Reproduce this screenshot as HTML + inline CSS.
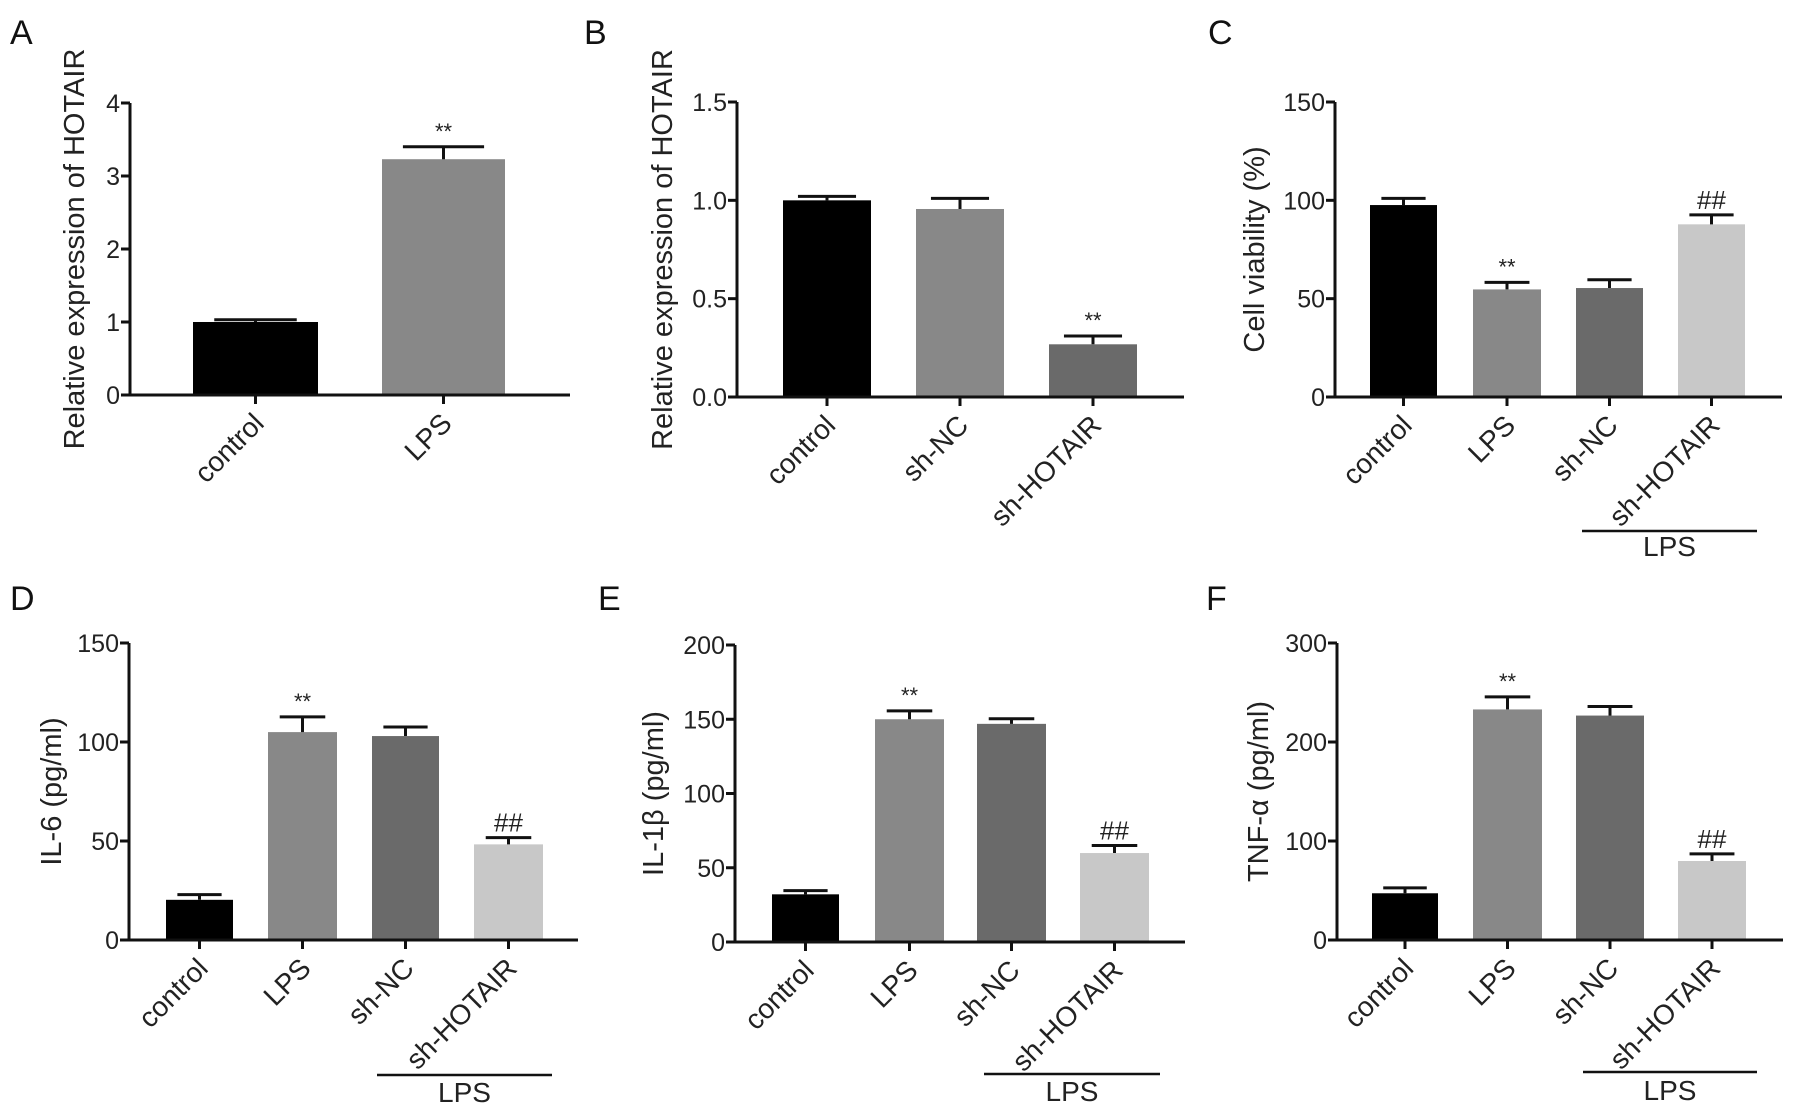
<!DOCTYPE html>
<html><head><meta charset="utf-8"><style>
html,body{margin:0;padding:0;background:#fff;}
svg{display:block;font-family:"Liberation Sans",Arial,sans-serif;}
</style></head><body>
<svg id="fig" width="1795" height="1114" viewBox="0 0 1795 1114" xmlns="http://www.w3.org/2000/svg"></svg>
<script>
// ---- data ----
const aCats = ["control","LPS"];
const aVals = [1.0, 3.23];
const aErrs = [1.03, 3.40];
const aMarks = ["", "**"];
const aTicks = [0,1,2,3,4];
const aTickLabels = ["0","1","2","3","4"];

const bCats = ["control","sh-NC","sh-HOTAIR"];
const bVals = [1.0, 0.956, 0.268];
const bErrs = [1.02, 1.01, 0.31];
const bMarks = ["", "", "**"];
const bTicks = [0,0.5,1.0,1.5];
const bTickLabels = ["0.0","0.5","1.0","1.5"];

const cCats = ["control","LPS","sh-NC","sh-HOTAIR"];
const cVals = [97.6, 54.7, 55.4, 87.8];
const cErrs = [101, 58.3, 59.6, 92.6];
const cMarks = ["", "**", "", "##"];
const cTicks = [0,50,100,150];
const cTickLabels = ["0","50","100","150"];

const dCats = ["control","LPS","sh-NC","sh-HOTAIR"];
const dVals = [20.3, 105, 103, 48.3];
const dErrs = [22.9, 112.7, 107.6, 51.7];
const dMarks = ["", "**", "", "##"];
const dTicks = [0,50,100,150];
const dTickLabels = ["0","50","100","150"];

const eCats = ["control","LPS","sh-NC","sh-HOTAIR"];
const eVals = [32.1, 150, 146.9, 59.9];
const eErrs = [34.6, 155.6, 150.3, 65];
const eMarks = ["", "**", "", "##"];
const eTicks = [0,50,100,150,200];
const eTickLabels = ["0","50","100","150","200"];

const fCats = ["control","LPS","sh-NC","sh-HOTAIR"];
const fVals = [47.2, 232.9, 226.7, 79.8];
const fErrs = [52.6, 245.6, 235.8, 87];
const fMarks = ["", "**", "", "##"];
const fTicks = [0,100,200,300];
const fTickLabels = ["0","100","200","300"];

// ---- layout ----
const NS = "http://www.w3.org/2000/svg";
const svg = document.getElementById('fig');
function mk(tag, attrs, parent){const e=document.createElementNS(NS,tag);for(const k in attrs)e.setAttribute(k,attrs[k]);(parent||svg).appendChild(e);return e;}

const panels = [
 {id:"a",letter:"A",lx:10,ly:44,ax:130,y0:395,y1:103,xEnd:570,max:4,cats:aCats,vals:aVals,errs:aErrs,marks:aMarks,ticks:aTicks,tl:aTickLabels,
  left:[193,382],bw:[125,123],colors:["#000","#888"],title:"Relative expression of HOTAIR",tx:75,bracket:null},
 {id:"b",letter:"B",lx:584,ly:44,ax:737,y0:397,y1:102,xEnd:1184,max:1.5,cats:bCats,vals:bVals,errs:bErrs,marks:bMarks,ticks:bTicks,tl:bTickLabels,
  left:[783,916,1049],bw:[88,88,88],colors:["#000","#888","#6a6a6a"],title:"Relative expression of HOTAIR",tx:663,bracket:null},
 {id:"c",letter:"C",lx:1208,ly:44,ax:1335,y0:397,y1:102,xEnd:1782,max:150,cats:cCats,vals:cVals,errs:cErrs,marks:cMarks,ticks:cTicks,tl:cTickLabels,
  left:[1370,1473,1576,1678],bw:[67,68,67,67],colors:["#000","#888","#6a6a6a","#c8c8c8"],title:"Cell viability (%)",tx:1255,bracket:[1582,1757,531,556]},
 {id:"d",letter:"D",lx:10,ly:610,ax:129,y0:940,y1:643,xEnd:578,max:150,cats:dCats,vals:dVals,errs:dErrs,marks:dMarks,ticks:dTicks,tl:dTickLabels,
  left:[166,268,372,474],bw:[67,69,67,69],colors:["#000","#888","#6a6a6a","#c8c8c8"],title:"IL-6 (pg/ml)",tx:52,bracket:[377,552,1075,1102]},
 {id:"e",letter:"E",lx:598,ly:610,ax:735,y0:942,y1:645,xEnd:1185,max:200,cats:eCats,vals:eVals,errs:eErrs,marks:eMarks,ticks:eTicks,tl:eTickLabels,
  left:[772,875,977,1080],bw:[67,69,69,69],colors:["#000","#888","#6a6a6a","#c8c8c8"],title:"IL-1β (pg/ml)",tx:654,bracket:[984,1160,1074,1101]},
 {id:"f",letter:"F",lx:1206,ly:610,ax:1337,y0:940,y1:643,xEnd:1783,max:300,cats:fCats,vals:fVals,errs:fErrs,marks:fMarks,ticks:fTicks,tl:fTickLabels,
  left:[1372,1473,1576,1678],bw:[66,69,68,68],colors:["#000","#888","#6a6a6a","#c8c8c8"],title:"TNF-α (pg/ml)",tx:1259,bracket:[1583,1757,1072,1100]}
];

panels.forEach(p=>{
  const g = mk('g',{});
  
  
  const yS = v => p.y0 - (v/p.max)*(p.y0-p.y1);

  const L = mk('text',{x:p.lx,y:p.ly,'font-size':34,fill:'#111'},g);
  L.textContent=p.letter;
  
  

  const T = mk('text',{x:0,y:0,'font-size':29,fill:'#222','text-anchor':'middle',
    transform:`translate(${p.tx},${(p.y0+p.y1)/2}) rotate(-90)`,'dominant-baseline':'central'},g);
  T.textContent=p.title;
  
  

  // bars
  p.vals.forEach((v,i)=>{
    const x=p.left[i], w=p.bw[i], cx=x+w/2;
    const r = mk('rect',{x:x,y:yS(v),width:w,height:p.y0-yS(v),fill:p.colors[i]},g);
    
    
    const e = p.errs[i];
    const el = mk('path',{d:`M${cx} ${yS(v)}V${yS(e)}M${cx-w*0.33} ${yS(e)}H${cx+w*0.33}`,stroke:'#111','stroke-width':3,fill:'none'},g);
    
    
    if(p.marks[i]){
      const isStar = p.marks[i]==="**";
      const m = mk('text',{x:cx,y:yS(e)-(isStar?8:6),'font-size':isStar?22:26,'text-anchor':'middle',fill:'#222'},g);
      m.textContent=p.marks[i];
      
      
    }
    // x tick
    const tk = mk('line',{x1:cx,x2:cx,y1:p.y0,y2:p.y0+9,stroke:'#111','stroke-width':3},g);
    
    
    const cl = mk('text',{x:0,y:0,'font-size':28,fill:'#222','text-anchor':'end',
      transform:`translate(${cx+10},${p.y0+30}) rotate(-45)`},g);
    cl.textContent=p.cats[i];
    
    
  });

  // axes
  const ax = mk('path',{d:`M${p.ax} ${p.y1}V${p.y0}H${p.xEnd}`,stroke:'#111','stroke-width':3,fill:'none'},g);
  
  
  p.ticks.forEach((t,i)=>{
    const y=yS(t);
    const tk = mk('line',{x1:p.ax-9,x2:p.ax,y1:y,y2:y,stroke:'#111','stroke-width':3},g);
    
    
    const tl = mk('text',{x:p.ax-10,y:y+9,'font-size':25,'text-anchor':'end',fill:'#222'},g);
    tl.textContent=p.tl[i];
    
    
  });

  if(p.bracket){
    const [x1,x2,yb,yt]=p.bracket;
    const bl = mk('line',{x1:x1,x2:x2,y1:yb,y2:yb,stroke:'#111','stroke-width':2.5},g);
    
    
    const bt = mk('text',{x:(x1+x2)/2,y:yt,'font-size':28,'text-anchor':'middle',fill:'#222'},g);
    bt.textContent="LPS";
    
    
  }
});
</script>
</body></html>
